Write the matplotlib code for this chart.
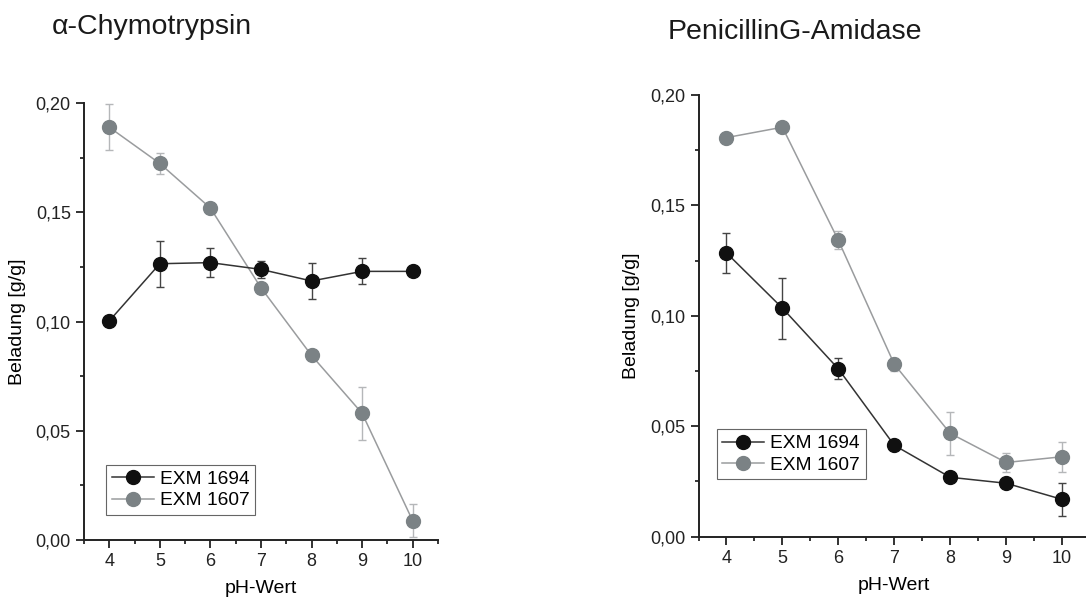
import matplotlib
matplotlib.use("Agg")
import matplotlib.pyplot as plt
from matplotlib.lines import Line2D
from matplotlib.ticker import MultipleLocator, FuncFormatter

plt.rcParams["font.family"] = ["Liberation Sans", "DejaVu Sans"]

ph = [4, 5, 6, 7, 8, 9, 10]

# alpha-Chymotrypsin
chy_1694 = [0.1003, 0.1265, 0.1270, 0.1239, 0.1186, 0.1230, 0.1230]
chy_1694_err = [0.0020, 0.0105, 0.0065, 0.0040, 0.0083, 0.0060, 0.0005]
chy_1607 = [0.1890, 0.1724, 0.1520, 0.1155, 0.0845, 0.0580, 0.0088]
chy_1607_err = [0.0105, 0.0050, 0.0020, 0.0010, 0.0010, 0.0120, 0.0075]

# PenicillinG-Amidase
pga_1694 = [0.1285, 0.1035, 0.0760, 0.0414, 0.0269, 0.0242, 0.0169]
pga_1694_err = [0.0090, 0.0138, 0.0047, 0.0005, 0.0005, 0.0020, 0.0074]
pga_1607 = [0.1807, 0.1854, 0.1342, 0.0781, 0.0468, 0.0336, 0.0362]
pga_1607_err = [0.0005, 0.0010, 0.0040, 0.0030, 0.0098, 0.0045, 0.0069]

BLACK = "#101010"
GRAY = "#7b8285"
LINE_BLACK = "#333333"
LINE_GRAY = "#9a9c9e"


def comma(v, pos):
    return f"{v:.2f}".replace(".", ",")


def panel(ax, s1694, e1694, s1607, e1607, legend_anchor):
    ax.errorbar(ph, s1607, yerr=e1607, color=LINE_GRAY, lw=1.1, marker="o",
                ms=10, mfc=GRAY, mec=GRAY, ecolor="#b5b7b9", elinewidth=1,
                capsize=3, zorder=2, clip_on=False)
    ax.errorbar(ph, s1694, yerr=e1694, color=LINE_BLACK, lw=1.1, marker="o",
                ms=10, mfc=BLACK, mec=BLACK, ecolor="#444444", elinewidth=1,
                capsize=3, zorder=3, clip_on=False)
    ax.set_xlim(3.5, 10.5)
    ax.set_ylim(0, 0.2)
    ax.xaxis.set_major_locator(MultipleLocator(1))
    ax.xaxis.set_minor_locator(MultipleLocator(0.5))
    ax.yaxis.set_major_locator(MultipleLocator(0.05))
    ax.yaxis.set_minor_locator(MultipleLocator(0.025))
    ax.yaxis.set_major_formatter(FuncFormatter(comma))
    ax.spines["top"].set_visible(False)
    ax.spines["right"].set_visible(False)
    for s in ("left", "bottom"):
        ax.spines[s].set_linewidth(1.4)
        ax.spines[s].set_color("#222222")
    ax.tick_params(which="major", length=5.5, width=1.3, labelsize=13,
                   colors="#222222", pad=4)
    ax.tick_params(which="minor", length=3, width=1.1)
    ax.set_xlabel("pH-Wert", fontsize=14, labelpad=7)
    ax.set_ylabel("Beladung [g/g]", fontsize=14, labelpad=7)
    handles = [
        Line2D([], [], color=LINE_BLACK, lw=1.1, marker="o", ms=10, mfc=BLACK, mec=BLACK),
        Line2D([], [], color=LINE_GRAY, lw=1.1, marker="o", ms=10, mfc=GRAY, mec=GRAY),
    ]
    leg = ax.legend(handles, ["EXM 1694", "EXM 1607"], loc="lower left",
                    bbox_to_anchor=legend_anchor, fontsize=13.8, fancybox=False,
                    framealpha=1, edgecolor="#666666", handlelength=2.2,
                    borderpad=0.3, labelspacing=0.2, handletextpad=0.3,
                    borderaxespad=0)
    leg.get_frame().set_linewidth(0.8)


fig = plt.figure(figsize=(10.86, 6), dpi=100)
ax1 = fig.add_axes([0.0773, 0.100, 0.326, 0.728])
ax2 = fig.add_axes([0.6432, 0.1055, 0.3605, 0.7362])

panel(ax1, chy_1694, chy_1694_err, chy_1607, chy_1607_err, (0.062, 0.057))
panel(ax2, pga_1694, pga_1694_err, pga_1607, pga_1607_err, (0.046, 0.13))

fig.text(0.048, 0.955, "α-Chymotrypsin", fontsize=20.5, va="center", ha="left",
         color="#1a1a1a")
fig.text(0.615, 0.947, "PenicillinG-Amidase", fontsize=20.5, va="center", ha="left",
         color="#1a1a1a")

fig.savefig("out.png", dpi=100)
